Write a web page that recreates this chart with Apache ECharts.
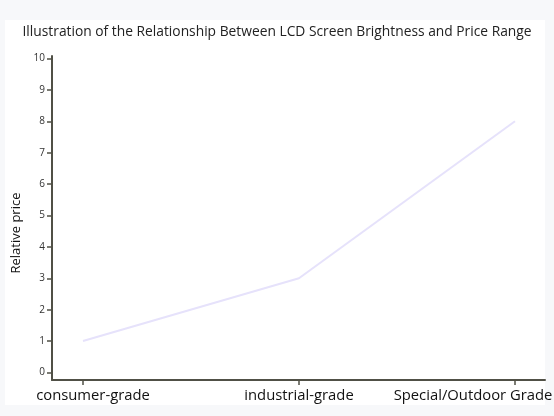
<!DOCTYPE html>
<html>
<head>
<meta charset="utf-8">
<script src="https://cdn.jsdelivr.net/npm/echarts@6/dist/echarts.min.js"></script>
<style>
  html, body { margin: 0; padding: 0; background: #f7f8fa; }
  #main { width: 554px; height: 416px; }
</style>
</head>
<body>
<div id="main"></div>
<script>
// data
const categories = ['consumer-grade', 'industrial-grade', 'Special/Outdoor Grade']
const priceValues = [1, 3, 8]
const yTicks = [0, 1, 2, 3, 4, 5, 6, 7, 8, 9, 10]
const catPositions = [0, 1, 2]

const axisColor = '#505046'
const font = '"Open Sans", "Noto Sans", sans-serif'
const labelStyle = { color: '#111', fontFamily: font, fontSize: 14.8 }

const chart = echarts.init(document.getElementById('main'))
const option = {
  backgroundColor: '#f7f8fa',
  animation: false,
  // white panel behind the chart
  graphic: [{
    type: 'rect',
    z: -10,
    shape: { x: 5, y: 20, width: 540, height: 385 },
    style: { fill: '#ffffff' }
  }],
  title: {
    text: 'Illustration of the Relationship Between LCD Screen Brightness and Price Range',
    left: 'center',
    top: 20,
    textStyle: { fontFamily: font, fontSize: 13.8, fontWeight: 'normal', color: '#222' }
  },
  grid: { left: 52, right: 9, top: 56, bottom: 36, containLabel: false, outerBoundsMode: 'none' },
  xAxis: {
    type: 'value',
    min: -0.1435,
    max: 2.139,
    splitLine: { show: false },
    axisLine: { show: true, onZero: false, lineStyle: { color: axisColor, width: 2 } },
    axisTick: { show: true, length: 5, customValues: catPositions, lineStyle: { color: axisColor, width: 1.5 } },
    axisLabel: {
      customValues: catPositions,
      // first and last labels are nudged to stay inside the panel
      formatter: (v) => {
        const i = Math.round(v)
        return '{c' + i + '|' + (categories[i] || '') + '}'
      },
      rich: {
        c0: Object.assign({ padding: [0, 0, 0, 20] }, labelStyle),
        c1: Object.assign({}, labelStyle),
        c2: Object.assign({ padding: [0, 84, 0, 0] }, labelStyle)
      },
      margin: 8,
      hideOverlap: false
    }
  },
  yAxis: {
    type: 'value',
    min: -0.24,
    max: 10.08,
    name: 'Relative price',
    nameLocation: 'middle',
    nameGap: 28,
    nameTextStyle: { fontFamily: font, fontSize: 13, color: '#111', padding: [0, 30, 0, 0] },
    splitLine: { show: false },
    axisLine: { show: true, onZero: false, lineStyle: { color: axisColor, width: 2 } },
    axisTick: { show: true, length: 5, customValues: yTicks, lineStyle: { color: axisColor, width: 1.5 } },
    axisLabel: {
      customValues: yTicks,
      color: '#333',
      fontFamily: font,
      fontSize: 10,
      margin: 7
    }
  },
  series: [{
    type: 'line',
    symbol: 'none',
    lineStyle: { color: '#e6e2fb', width: 2 },
    data: catPositions.map((x, i) => [x, priceValues[i]])
  }]
}
chart.setOption(option)
</script>
</body>
</html>
